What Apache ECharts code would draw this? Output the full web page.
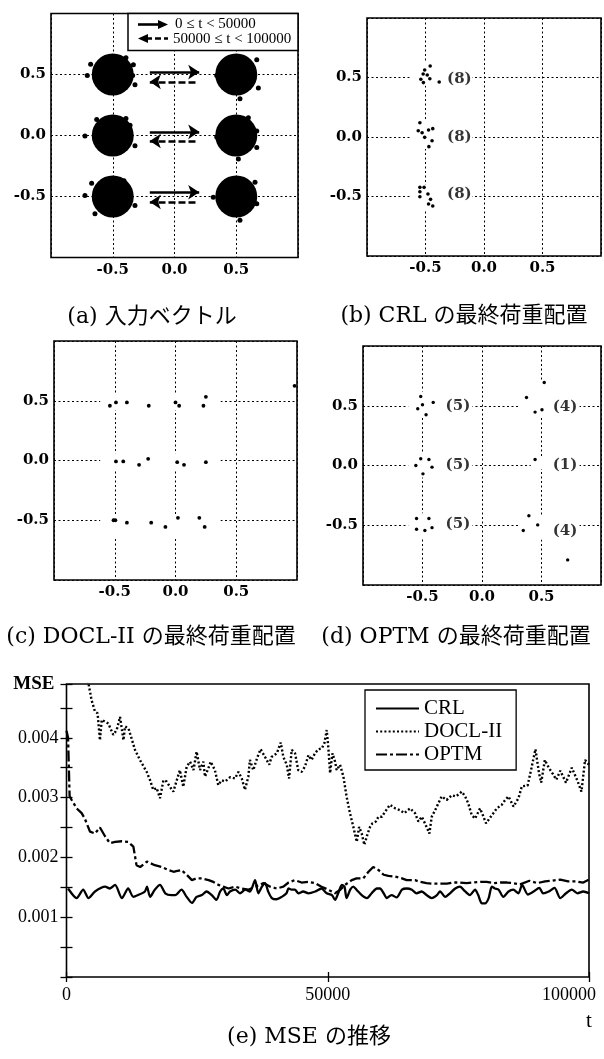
<!DOCTYPE html>
<html>
<head>
<meta charset="utf-8">
<script src="https://cdn.jsdelivr.net/npm/echarts@6.0.0/dist/echarts.min.js"></script>
<style>
  html, body { margin: 0; padding: 0; background: #fff; }
  #chart { width: 604px; height: 1059px; }
</style>
</head>
<body>
<div id="chart"></div>
<script>
// ---------- (a) input vectors ----------
const inputCenters = [[-0.5, 0.5], [0.5, 0.5], [-0.5, 0], [0.5, 0], [-0.5, -0.5], [0.5, -0.5]];
const inputStray = [
  [-0.679, 0.584], [-0.393, 0.638], [-0.706, 0.492], [-0.333, 0.579], [-0.32, 0.416], [-0.339, 0.492],
  [0.342, 0.492], [0.666, 0.62], [0.53, 0.302], [0.679, 0.389],
  [-0.725, -0.004], [-0.63, 0.132], [-0.393, 0.14], [-0.32, -0.085], [-0.36, 0.085],
  [0.342, -0.012], [0.598, 0.145], [0.666, 0.037], [0.666, -0.099], [0.517, -0.193],
  [-0.725, -0.492], [-0.671, -0.392], [-0.409, -0.37], [-0.32, -0.573], [-0.644, -0.641],
  [0.314, -0.506], [0.652, -0.384], [0.666, -0.559], [0.53, -0.695]
];
const forwardSpan = [-0.2, 0.2];
const backSpan = [0.17, -0.2];
const forwardY = [0.52, 0.03, -0.465];
const backY = [0.44, -0.045, -0.545];
const periodText = ['0 \u2264 t < 50000', '50000 \u2264 t < 100000'];

// ---------- (b) CRL final weights ----------
const crlClusters = [
  [[-0.46, 0.597], [-0.507, 0.563], [-0.52, 0.529], [-0.54, 0.485], [-0.518, 0.457], [-0.463, 0.49], [-0.383, 0.462], [-0.485, 0.521]],
  [[-0.548, 0.12], [-0.562, 0.053], [-0.529, 0.036], [-0.474, 0.059], [-0.438, 0.07], [-0.507, -0.003], [-0.444, -0.031], [-0.471, -0.081]],
  [[-0.548, -0.423], [-0.512, -0.423], [-0.548, -0.46], [-0.548, -0.502], [-0.479, -0.479], [-0.457, -0.524], [-0.474, -0.563], [-0.438, -0.58]]
];
const crlLabelAt = [[-0.32, 0.49], [-0.32, 0.0], [-0.32, -0.48]];
const crlClear = [[-0.62, -0.1, 0.43, 0.63], [-0.62, -0.1, -0.1, 0.14], [-0.62, -0.1, -0.62, -0.4]];

// ---------- (c) DOCL-II final weights ----------
const doclWeights = [
  [-0.54, 0.458], [-0.49, 0.486], [-0.40, 0.486], [-0.22, 0.458], [0.0, 0.486], [0.03, 0.458], [0.23, 0.458], [0.25, 0.533], [0.98, 0.625],
  [-0.49, -0.008], [-0.43, -0.008], [-0.30, -0.036], [-0.225, 0.014], [0.014, -0.014], [0.07, -0.036], [0.25, -0.014],
  [-0.51, -0.5], [-0.495, -0.5], [-0.40, -0.52], [-0.20, -0.52], [-0.083, -0.556], [0.02, -0.48], [0.196, -0.48], [0.24, -0.556]
];
const doclClear = [[-0.62, 0.37, 0.42, 0.55], [-0.62, 0.37, -0.08, 0.06], [-0.62, 0.37, -0.64, -0.45]];

// ---------- (d) OPTM final weights ----------
const optmClusters = [
  [[-0.515, 0.578], [-0.54, 0.475], [-0.50, 0.508], [-0.41, 0.528], [-0.47, 0.425]],
  [[-0.515, 0.056], [-0.446, 0.05], [-0.556, 0.0], [-0.496, -0.07], [-0.42, -0.014]],
  [[-0.55, -0.444], [-0.446, -0.444], [-0.55, -0.533], [-0.48, -0.544], [-0.42, -0.52]],
  [[0.523, 0.694], [0.374, 0.569], [0.446, 0.447], [0.504, 0.467]],
  [[0.446, 0.05]],
  [[0.394, -0.42], [0.468, -0.497], [0.347, -0.544], [0.72, -0.79]]
];
const optmLabelAt = [[-0.31, 0.5], [-0.31, 0.0], [-0.31, -0.49], [0.59, 0.49], [0.59, 0.0], [0.59, -0.55]];
const optmClear = [
  [-0.62, -0.08, 0.40, 0.62], [-0.62, -0.08, -0.1, 0.1], [-0.62, -0.08, -0.6, -0.4],
  [0.31, 0.82, 0.40, 0.71], [0.41, 0.82, -0.03, 0.08], [0.31, 0.82, -0.62, -0.42]
];

// ---------- (e) MSE over time ----------
const crlMse = [
  [300, 0.00148], [1950, 0.00132], [3200, 0.00146], [4200, 0.00132], [5450, 0.00143], [7400, 0.00151], [8300, 0.00148],
  [9300, 0.00154], [10600, 0.00132], [11800, 0.00148], [12800, 0.00134], [13700, 0.00137], [15000, 0.00143], [15400, 0.00151],
  [16000, 0.00134], [16900, 0.00146], [17900, 0.00154], [18900, 0.0014], [20100, 0.00137], [20800, 0.00137], [22000, 0.00146],
  [23000, 0.00134], [24000, 0.00124], [24900, 0.00134], [25900, 0.00137], [26800, 0.00143], [27800, 0.00137], [28700, 0.00129],
  [29400, 0.00143], [30000, 0.00148], [30700, 0.00137], [31300, 0.00143], [32300, 0.00146], [33200, 0.0014], [34200, 0.00146],
  [35100, 0.00143], [36100, 0.00162], [36700, 0.0014], [37400, 0.00151], [38000, 0.00157], [38600, 0.00143], [39300, 0.00132],
  [40200, 0.0013], [41200, 0.00134], [42100, 0.0014], [42500, 0.00148], [43100, 0.00146], [43700, 0.00146], [44400, 0.0014],
  [45300, 0.00143], [46300, 0.0014], [47600, 0.00143], [48800, 0.00148], [49800, 0.0014], [50800, 0.00137], [51400, 0.00129],
  [52000, 0.0014], [52700, 0.00154], [53200, 0.00151], [53600, 0.00132], [54300, 0.00146], [54900, 0.00151], [55500, 0.00146],
  [56500, 0.00137], [57500, 0.00132], [58400, 0.0014], [59400, 0.00148], [60000, 0.00148], [60700, 0.0014], [61300, 0.00132],
  [62200, 0.00137], [63200, 0.00133], [64200, 0.00146], [65100, 0.00148], [66100, 0.00146], [67000, 0.0014], [68000, 0.00143],
  [68900, 0.00137], [69900, 0.00132], [70900, 0.00137], [71500, 0.00143], [72500, 0.00134], [73400, 0.0014], [74400, 0.00148],
  [75300, 0.00151], [76300, 0.00143], [77200, 0.00137], [78200, 0.00146], [78800, 0.00137], [79500, 0.00123], [80100, 0.00123],
  [80800, 0.00132], [81400, 0.00151], [82000, 0.00148], [82700, 0.00146], [83600, 0.00134], [84600, 0.00143], [85500, 0.00146],
  [86500, 0.0014], [87200, 0.00154], [88300, 0.00138], [89400, 0.00143], [90500, 0.00149], [91200, 0.0014], [92300, 0.00143],
  [93400, 0.00149], [94500, 0.00132], [95600, 0.0014], [96700, 0.00146], [97800, 0.0014], [98900, 0.00143], [100000, 0.0014]
];
const doclMse = [
  [3800, 0.0051], [4800, 0.00463], [5450, 0.00444], [5950, 0.00441], [6400, 0.00396], [6750, 0.0043], [7350, 0.00427],
  [8000, 0.00424], [8950, 0.00405], [9600, 0.00413], [10250, 0.00435], [10900, 0.00396], [11200, 0.00419], [11850, 0.00416],
  [12450, 0.00399], [13100, 0.0038], [14050, 0.00363], [15350, 0.00343], [16000, 0.00329], [16600, 0.00313], [17250, 0.00316],
  [17900, 0.00299], [18550, 0.00329], [19150, 0.00327], [19800, 0.00318], [20450, 0.0031], [21100, 0.00329], [21700, 0.00346],
  [22350, 0.00318], [23000, 0.00352], [23650, 0.0036], [24300, 0.00346], [24900, 0.00377], [25550, 0.00346], [26200, 0.0036],
  [26500, 0.00335], [27150, 0.00349], [27600, 0.0036], [28400, 0.00346], [29050, 0.00321], [29700, 0.00329], [30350, 0.00327],
  [31300, 0.00334], [32250, 0.00332], [32900, 0.00343], [33550, 0.00332], [34150, 0.00313], [34800, 0.00335], [35100, 0.00363],
  [35750, 0.00346], [36550, 0.00368], [37150, 0.00381], [38000, 0.00368], [38800, 0.00355], [39250, 0.00368], [40250, 0.00374],
  [41000, 0.00392], [41500, 0.00368], [42150, 0.00355], [42600, 0.00332], [43100, 0.0038], [43750, 0.00374], [44350, 0.00346],
  [45000, 0.00343], [45650, 0.00352], [46300, 0.00371], [46900, 0.00363], [47550, 0.00374], [48200, 0.00381], [48850, 0.00382],
  [49350, 0.00391], [49800, 0.00413], [50100, 0.00385], [50450, 0.00341], [50900, 0.00374], [51400, 0.0036], [51700, 0.00346],
  [52350, 0.00355], [53000, 0.00335], [53600, 0.00302], [54250, 0.00274], [54900, 0.00251], [55550, 0.00226], [56000, 0.00251],
  [56500, 0.0024], [57000, 0.00221], [57650, 0.0024], [58100, 0.00251], [58550, 0.00257], [59200, 0.0026], [59700, 0.00268],
  [60350, 0.00268], [60950, 0.00276], [61900, 0.00288], [62900, 0.00282], [63850, 0.00279], [64650, 0.00274], [65750, 0.00282],
  [66700, 0.00274], [67350, 0.0026], [68000, 0.00268], [68600, 0.00257], [69450, 0.0024], [69900, 0.00268], [70550, 0.00279],
  [71150, 0.0029], [71800, 0.00302], [72750, 0.00296], [73750, 0.00304], [74550, 0.00302], [75650, 0.0031], [76300, 0.00302],
  [76900, 0.0029], [77550, 0.00271], [78200, 0.00265], [79150, 0.00282], [79800, 0.00268], [80300, 0.00257], [80950, 0.00265],
  [81700, 0.00274], [82350, 0.00282], [83300, 0.00288], [83950, 0.00296], [84600, 0.00302], [85550, 0.00285], [86500, 0.00299],
  [87150, 0.00319], [88250, 0.0032], [89000, 0.0035], [89750, 0.00381], [90450, 0.0034], [90850, 0.00325], [91550, 0.00363],
  [92300, 0.0035], [93050, 0.0034], [93750, 0.0033], [94500, 0.00345], [95600, 0.00325], [96700, 0.0035], [97800, 0.00328],
  [98550, 0.0031], [99250, 0.00363], [100000, 0.00355]
];
const optmMse = [
  [0, 0.00412], [300, 0.004], [450, 0.0035], [600, 0.00302], [1000, 0.00296], [1950, 0.00282], [2900, 0.00274], [3500, 0.00265],
  [4500, 0.00243], [5450, 0.0024], [6400, 0.0025], [7400, 0.00235], [8300, 0.00224], [9300, 0.00226], [10600, 0.00227],
  [11800, 0.00226], [12800, 0.00218], [13400, 0.00187], [14100, 0.00184], [15400, 0.00193], [16900, 0.00187], [18200, 0.00184],
  [19500, 0.00179], [20500, 0.00176], [21000, 0.00177], [22000, 0.00179], [23000, 0.00171], [24000, 0.00162], [24900, 0.00165],
  [25900, 0.00165], [27200, 0.00162], [28100, 0.00159], [29100, 0.00154], [30000, 0.00151], [31000, 0.00148], [32300, 0.00151],
  [33500, 0.00148], [34800, 0.00146], [36100, 0.00151], [37700, 0.00157], [39000, 0.00151], [40200, 0.00148], [41500, 0.00151],
  [42500, 0.00158], [43700, 0.00162], [45000, 0.00158], [46300, 0.00159], [47600, 0.00157], [48800, 0.00151], [50100, 0.00146],
  [51400, 0.0014], [52400, 0.00146], [53300, 0.00154], [54600, 0.00162], [55500, 0.00165], [56800, 0.00165], [57800, 0.00176],
  [58700, 0.00184], [59700, 0.00179], [60700, 0.00171], [61600, 0.00169], [62900, 0.00168], [64200, 0.00165], [65100, 0.00162],
  [66700, 0.00162], [67700, 0.00159], [68900, 0.00157], [70200, 0.00156], [71500, 0.00156], [72800, 0.00156], [74100, 0.00158],
  [75300, 0.00158], [76600, 0.00157], [77900, 0.00158], [79200, 0.00159], [80400, 0.00159], [81700, 0.00157], [83000, 0.00158],
  [84300, 0.00158], [85500, 0.00157], [86800, 0.00155], [88600, 0.00161], [90100, 0.00157], [91600, 0.0016], [93000, 0.00161],
  [94500, 0.00163], [96000, 0.0016], [97400, 0.0016], [98900, 0.00158], [100000, 0.00163]
];
const mseSeriesNames = ['CRL', 'DOCL-II', 'OPTM'];
const captions = ['(a) 入力ベクトル', '(b) CRL の最終荷重配置', '(c) DOCL-II の最終荷重配置', '(d) OPTM の最終荷重配置', '(e) MSE の推移'];

// ---------- styling helpers ----------
const SERIF_BOLD = { fontFamily: 'DejaVu Serif', fontWeight: 'bold', fontSize: 15, color: '#000' };
const TIMES = 'Liberation Serif';
const CAPTION_FONT = '22px "DejaVu Serif", "Noto Sans CJK JP"';

function squareAxis(gridIndex) {
  return {
    type: 'value', gridIndex, min: -1, max: 1, interval: 0.5,
    axisLine: { show: false }, axisTick: { show: false },
    axisLabel: Object.assign({}, SERIF_BOLD, {
      margin: 5,
      formatter: v => (Math.abs(v) > 0.99 ? '' : v.toFixed(1))
    }),
    splitLine: { show: true, lineStyle: { color: '#000', width: 1, type: [2, 2.5] } }
  };
}

function clearSeries(idx, rects) {
  return {
    type: 'custom', xAxisIndex: idx, yAxisIndex: idx, silent: true, z: 2,
    data: rects, encode: { x: [0, 1], y: [2, 3] },
    renderItem: (params, api) => {
      const p0 = api.coord([api.value(0), api.value(3)]);
      const p1 = api.coord([api.value(1), api.value(2)]);
      return { type: 'rect', shape: { x: p0[0], y: p0[1], width: p1[0] - p0[0], height: p1[1] - p0[1] }, style: { fill: '#fff' } };
    }
  };
}

function dotSeries(idx, pts, size) {
  return {
    type: 'scatter', xAxisIndex: idx, yAxisIndex: idx, silent: true, z: 3,
    data: pts, symbol: 'circle', symbolSize: size, itemStyle: { color: '#000', opacity: 1 }
  };
}

function countLabels(idx, clusters, at) {
  return {
    type: 'scatter', xAxisIndex: idx, yAxisIndex: idx, silent: true, z: 4,
    symbolSize: 1, itemStyle: { color: 'rgba(0,0,0,0)' },
    data: at.map((p, i) => ({ value: p, name: '(' + clusters[i].length + ')' })),
    label: Object.assign({ show: true, position: 'right', distance: 0, formatter: '{b}' }, SERIF_BOLD)
  };
}

const arrowLines = [];
forwardY.forEach(y => arrowLines.push([{ coord: [forwardSpan[0], y] }, { coord: [forwardSpan[1], y] }]));
backY.forEach(y => arrowLines.push([{ coord: [backSpan[0], y], lineStyle: { type: [7, 3] } }, { coord: [backSpan[1], y] }]));

const yTickLabel = v => {
  const m = v * 1000;
  return (Math.abs(m - Math.round(m)) < 1e-6 && m > 0.5 && m < 4.5) ? v.toFixed(3) : '';
};

const mseYAxis = (position) => ({
  type: 'value', gridIndex: 4, min: 0, max: 0.0049, interval: 0.0005, position,
  axisLine: { show: false },
  axisTick: { show: true, inside: true, length: 6, lineStyle: { color: '#000', width: 1.3 } },
  axisLabel: position === 'left'
    ? { show: true, fontFamily: TIMES, fontSize: 18, color: '#000', margin: 8, formatter: yTickLabel }
    : { show: false },
  splitLine: { show: false },
  name: position === 'left' ? 'MSE' : '',
  nameLocation: 'end', nameGap: 0,
  nameTextStyle: { fontFamily: TIMES, fontWeight: 'bold', fontSize: 19, color: '#000', align: 'right', verticalAlign: 'middle', padding: [0, 12, 0, 0] }
});

const mseXAxis = (position) => ({
  type: 'value', gridIndex: 4, min: 0, max: 100000, interval: 50000, position,
  axisLine: { show: false },
  axisTick: { show: true, inside: true, length: 5, lineStyle: { color: '#000', width: 1.3 } },
  axisLabel: position === 'bottom'
    ? {
        show: true, fontFamily: TIMES, fontSize: 18, color: '#000', margin: 9,
        formatter: v => (v === 100000 ? '{r|100000}' : String(v)),
        rich: { r: { fontFamily: TIMES, fontSize: 18, color: '#000', padding: [0, 40, 0, 0] } }
      }
    : { show: false },
  splitLine: { show: false },
  name: position === 'bottom' ? 't' : '',
  nameLocation: 'end', nameGap: 0,
  nameTextStyle: { fontFamily: TIMES, fontSize: 21, color: '#000', align: 'center', verticalAlign: 'top', padding: [34, 0, 0, 0] }
});

const gridBox = { show: true, borderColor: '#000', borderWidth: 1.6, backgroundColor: 'rgba(0,0,0,0)' };
const mseLine = (i, data, width, dash, smooth) => ({
  type: 'line', name: mseSeriesNames[i], xAxisIndex: 4, yAxisIndex: 4, data,
  symbol: 'none', smooth, z: 3,
  lineStyle: { color: '#000', width, type: dash },
  itemStyle: { color: '#000', opacity: 0 }
});

const option = {
  animation: false,
  backgroundColor: '#fff',
  grid: [
    Object.assign({ left: 51, top: 13.5, width: 247, height: 244 }, gridBox),
    Object.assign({ left: 367, top: 18, width: 242, height: 238 }, gridBox),
    Object.assign({ left: 54, top: 341, width: 243, height: 239 }, gridBox),
    Object.assign({ left: 363, top: 346, width: 242, height: 239 }, gridBox),
    Object.assign({ left: 66.5, top: 684, width: 522.5, height: 293 }, gridBox)
  ],
  xAxis: [squareAxis(0), squareAxis(1), squareAxis(2), squareAxis(3), mseXAxis('bottom'), mseXAxis('top')],
  yAxis: [squareAxis(0), squareAxis(1), squareAxis(2), squareAxis(3), mseYAxis('left'), mseYAxis('right')],
  legend: {
    left: 365, top: 690, orient: 'vertical', data: mseSeriesNames, selectedMode: false,
    itemWidth: 43, itemHeight: 12, itemGap: 0, padding: [7, 14, 4, 10],
    backgroundColor: '#fff', borderColor: '#000', borderWidth: 1.3,
    itemStyle: { opacity: 0 },
    textStyle: { fontFamily: TIMES, fontSize: 21, color: '#000', lineHeight: 23 }
  },
  series: [
    // (a) input clusters with the drift arrows
    {
      type: 'scatter', xAxisIndex: 0, yAxisIndex: 0, silent: true, z: 3,
      data: inputCenters, symbol: 'circle', symbolSize: 42, itemStyle: { color: '#000', opacity: 1 },
      markLine: {
        silent: true, animation: false, symbol: ['none', 'arrow'], symbolSize: 11,
        label: { show: false }, lineStyle: { color: '#000', width: 2.6, type: 'solid', opacity: 1 },
        emphasis: { disabled: true },
        data: arrowLines
      }
    },
    dotSeries(0, inputStray, 5),
    // (b)
    clearSeries(1, crlClear),
    dotSeries(1, crlClusters.flat(), 3.6),
    countLabels(1, crlClusters, crlLabelAt),
    // (c)
    clearSeries(2, doclClear),
    dotSeries(2, doclWeights, 3.8),
    // (d)
    clearSeries(3, optmClear),
    dotSeries(3, optmClusters.flat(), 3.4),
    countLabels(3, optmClusters, optmLabelAt),
    // (e)
    mseLine(0, crlMse, 2.3, 'solid', 0.25),
    mseLine(1, doclMse, 2.4, [2, 2.2], false),
    mseLine(2, optmMse, 2.3, [11, 3, 3, 3], false)
  ],
  graphic: [
    // period key in panel (a)
    { type: 'rect', z: 20, shape: { x: 128, y: 13.5, width: 170, height: 37 }, style: { fill: '#fff', stroke: '#000', lineWidth: 1.5 } },
    { type: 'line', z: 21, shape: { x1: 138, y1: 24.5, x2: 161, y2: 24.5 }, style: { stroke: '#000', lineWidth: 2.6 } },
    { type: 'polygon', z: 21, shape: { points: [[168, 24.5], [158, 20], [158, 29]] }, style: { fill: '#000' } },
    { type: 'line', z: 21, shape: { x1: 146, y1: 38.5, x2: 168, y2: 38.5 }, style: { stroke: '#000', lineWidth: 2.6, lineDash: [6, 3] } },
    { type: 'polygon', z: 21, shape: { points: [[138, 38.5], [148, 34], [148, 43]] }, style: { fill: '#000' } },
    { type: 'text', z: 21, x: 175, y: 24.5, style: { text: periodText[0], font: '15px "Liberation Serif"', fill: '#000', verticalAlign: 'middle' } },
    { type: 'text', z: 21, x: 173, y: 39, style: { text: periodText[1], font: '15px "Liberation Serif"', fill: '#000', verticalAlign: 'middle' } },
    // captions
    { type: 'text', x: 152, y: 317, style: { text: captions[0], font: CAPTION_FONT, fill: '#000', align: 'center', verticalAlign: 'middle' } },
    { type: 'text', x: 464, y: 316, style: { text: captions[1], font: CAPTION_FONT, fill: '#000', align: 'center', verticalAlign: 'middle' } },
    { type: 'text', x: 151, y: 637, style: { text: captions[2], font: CAPTION_FONT, fill: '#000', align: 'center', verticalAlign: 'middle' } },
    { type: 'text', x: 456, y: 637, style: { text: captions[3], font: CAPTION_FONT, fill: '#000', align: 'center', verticalAlign: 'middle' } },
    { type: 'text', x: 309, y: 1037, style: { text: captions[4], font: CAPTION_FONT, fill: '#000', align: 'center', verticalAlign: 'middle' } }
  ]
};

const chart = echarts.init(document.getElementById('chart'), null, { renderer: 'canvas' });
chart.setOption(option);
</script>
</body>
</html>
